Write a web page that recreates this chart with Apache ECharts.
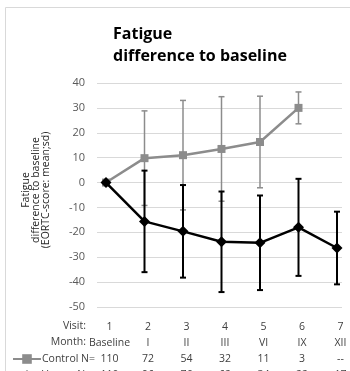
<!DOCTYPE html>
<html><head><meta charset="utf-8">
<script src="https://cdn.jsdelivr.net/npm/echarts@6/dist/echarts.min.js"></script>
<style>html,body{margin:0;padding:0;background:#fff}#c{width:350px;height:371px}</style>
</head><body><div id="c"></div>
<script>
const visits = ['1','2','3','4','5','6','7'];
const months = ['Baseline','I','II','III','VI','IX','XII'];
const controlN = ['110','72','54','32','11','3','--'];
const verumN = ['110','96','76','62','34','22','17'];
const controlMean = [0, 9.8, 11, 13.5, 16.3, 30, null];
const controlSD = [0, 19, 22, 21, 18.4, 6.4, null];
const verumMean = [0, -15.6, -19.6, -23.8, -24.2, -18, -26.3];
const verumSD = [0, 20.4, 18.6, 20.2, 19, 19.5, 14.6];
const yMin = -50, yMax = 40, yStep = 10;

const FONT = 'Open Sans';
function errData(mean, sd){
  const out = [];
  mean.forEach((m,i)=>{ if(m!=null && sd[i]) out.push([i, m - sd[i], m + sd[i]]); });
  return out;
}
function errRender(color, width, cap){
  return function(params, api){
    const x = api.value(0);
    const p1 = api.coord([x, api.value(2)]);
    const p2 = api.coord([x, api.value(1)]);
    const st = {stroke: color, lineWidth: width};
    return {type:'group', children:[
      {type:'line', shape:{x1:p1[0], y1:p1[1], x2:p2[0], y2:p2[1]}, style:st},
      {type:'line', shape:{x1:p1[0]-cap, y1:p1[1], x2:p1[0]+cap, y2:p1[1]}, style:st},
      {type:'line', shape:{x1:p2[0]-cap, y1:p2[1], x2:p2[0]+cap, y2:p2[1]}, style:st}
    ]};
  };
}
const chart = echarts.init(document.getElementById('c'), null, {renderer:'canvas'});
chart.setOption({
  animation:false,
  textStyle:{fontFamily:FONT},
  title:{text:'Fatigue\ndifference to baseline', left:108, top:18,
    textStyle:{fontFamily:FONT, fontSize:16, fontWeight:'bold', color:'#000', lineHeight:22}},
  legend:{orient:'vertical', left:12, top:352, height:40, itemWidth:28, itemHeight:12, itemGap:2,
    padding:0, data:['Control','Verum'],
    formatter: n => n + ' N=',
    textStyle:{fontFamily:FONT, fontSize:10.5, color:'#404040', padding:[0,0,0,-4], lineHeight:14}},
  grid:[
    {left:106, right:13, top:83, bottom:64, outerBoundsMode:'none', containLabel:false},
    {left:97, right:8, top:83, bottom:64, outerBoundsMode:'none', containLabel:false}
  ],
  xAxis:[
    {type:'category', gridIndex:0, data:visits, boundaryGap:false,
      axisLine:{show:false}, axisTick:{show:false}, splitLine:{show:false},
      axisLabel:{interval:0, hideOverlap:false, margin:12, color:'#404040', fontFamily:FONT, fontSize:10.5, lineHeight:16,
        padding:[0,0,0,7],
        formatter:(v, i) => [visits[i], months[i], controlN[i], verumN[i]].join('\n')}},
    {type:'value', gridIndex:1, min:0, max:1, show:false}
  ],
  yAxis:[
    {type:'value', gridIndex:0, min:yMin, max:yMax, interval:yStep, show:false},
    {type:'value', gridIndex:1, min:yMin, max:yMax, interval:yStep,
      axisLine:{show:false}, axisTick:{show:false},
      splitLine:{lineStyle:{color:'#d9d9d9', width:1}},
      axisLabel:{color:'#595959', fontFamily:FONT, fontSize:11, margin:12},
      name:'Fatigue\ndifference to baseline\n(EORTC-score: mean;sd)', nameLocation:'middle', nameRotate:90, nameGap:46,
      nameTextStyle:{fontFamily:FONT, fontSize:10.5, lineHeight:10, color:'#262626', align:'center', padding:[0,0,0,10]}}
  ],
  series:[
    {type:'custom', name:'ctrlErr', xAxisIndex:0, yAxisIndex:0, data:errData(controlMean, controlSD),
      renderItem: errRender('#8c8c8c', 1.5, 3), z:1, silent:true},
    {type:'line', name:'Control', xAxisIndex:0, yAxisIndex:0, data:controlMean, symbol:'rect', symbolSize:8,
      lineStyle:{color:'#8c8c8c', width:2.5}, itemStyle:{color:'#8c8c8c'}, z:2},
    {type:'custom', name:'verErr', xAxisIndex:0, yAxisIndex:0, data:errData(verumMean, verumSD),
      renderItem: errRender('#000', 2, 3), z:3, silent:true},
    {type:'line', name:'Verum', xAxisIndex:0, yAxisIndex:0, data:verumMean, symbol:'diamond', symbolSize:11,
      lineStyle:{color:'#000', width:2.5}, itemStyle:{color:'#000'}, z:4}
  ],
  graphic:[
    {type:'rect', shape:{x:5.5, y:7.5, width:400, height:400}, style:{fill:null, stroke:'#d9d9d9', lineWidth:1}, silent:true, z:-1},
    {type:'text', x:86, y:326, style:{text:'Visit:', textAlign:'right', textVerticalAlign:'middle', font:'10.5px "Open Sans"', fill:'#404040'}},
    {type:'text', x:86, y:342, style:{text:'Month:', textAlign:'right', textVerticalAlign:'middle', font:'10.5px "Open Sans"', fill:'#404040'}}
  ]
});
</script></body></html>
